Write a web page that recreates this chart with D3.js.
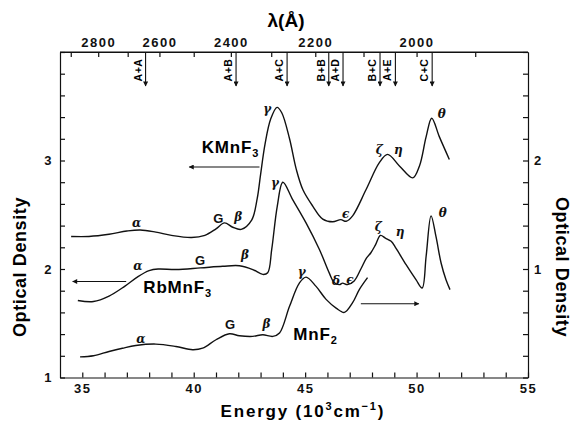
<!DOCTYPE html>
<html>
<head>
<meta charset="utf-8">
<script src="https://cdn.jsdelivr.net/npm/d3@7"></script>
<style>
  body { margin: 0; background: #fff; }
  svg { font-family: "Liberation Sans", Arial, sans-serif; }
  .axis path, .axis line { stroke: #111; stroke-width: 1.2; }
  .axis text { font-size: 13px; font-weight: bold; fill: #111; letter-spacing: 1.5px; }
  .curve { fill: none; stroke: #111; stroke-width: 1.4; }
  .greek { font-family: "DejaVu Serif", serif; font-style: italic; font-weight: bold; font-size: 12px; fill: #111; }
</style>
</head>
<body>
<script>
// energies in 10^3 cm^-1, optical density
var kEnergy = [34.5, 35.3, 36.2, 37.0, 37.6, 38.3, 39.0, 39.9, 40.5, 41.0, 41.38, 41.75, 42.13, 42.6, 42.85, 43.0, 43.2, 43.45, 43.74, 43.95, 44.3, 44.6, 44.9, 45.34, 45.79, 46.24, 46.6, 46.84, 47.13, 47.73, 48.33, 48.7, 49.23, 49.83, 50.13, 50.43, 50.68, 51.02, 51.47];
var kOD     = [2.30, 2.30, 2.32, 2.35, 2.36, 2.34, 2.31, 2.29, 2.31, 2.37, 2.425, 2.385, 2.365, 2.45, 2.65, 2.87, 3.15, 3.38, 3.49, 3.44, 3.2, 2.92, 2.73, 2.58, 2.46, 2.435, 2.455, 2.44, 2.49, 2.73, 2.98, 3.056, 2.95, 2.84, 2.95, 3.22, 3.39, 3.22, 3.01];

var rbEnergy = [34.8, 35.5, 36.2, 36.9, 37.5, 38.0, 38.4, 39.2, 40.3, 41.3, 42.05, 42.65, 43.1, 43.32, 43.5, 43.75, 44.0, 44.44, 45.04, 45.64, 46.09, 46.3, 46.54, 46.68, 46.9, 47.2, 47.5, 47.75, 47.95, 48.15, 48.38, 48.6, 48.86, 49.08, 49.53, 49.98, 50.25, 50.43, 50.65, 50.87, 51.1, 51.32, 51.5];
var rbOD     = [1.71, 1.70, 1.75, 1.84, 1.93, 1.985, 2.0, 1.995, 2.01, 2.025, 2.03, 1.995, 1.95, 1.965, 2.18, 2.58, 2.80, 2.64, 2.425, 2.18, 1.96, 1.875, 1.856, 1.87, 1.856, 1.89, 2.0, 2.1, 2.15, 2.22, 2.31, 2.285, 2.255, 2.19, 2.04, 1.90, 1.825, 2.12, 2.49, 2.30, 2.055, 1.90, 1.81];

// MnF2 is read on the right-hand axis
var mnEnergy = [34.9, 35.5, 36.2, 36.8, 37.4, 38.3, 39.2, 39.95, 40.4, 41.0, 41.6, 42.05, 42.65, 43.1, 43.55, 43.85, 44.3, 44.74, 45.04, 45.49, 45.94, 46.39, 46.76, 47.13, 47.43, 47.8];
var mnOD     = [0.19, 0.20, 0.24, 0.27, 0.295, 0.308, 0.286, 0.256, 0.27, 0.348, 0.403, 0.385, 0.379, 0.394, 0.379, 0.41, 0.656, 0.87, 0.925, 0.84, 0.72, 0.64, 0.60, 0.69, 0.81, 0.92];

// top axis, wavelength in Angstrom
var waveTicks  = [1900, 2000, 2100, 2200, 2300, 2400, 2500, 2600, 2700, 2800, 2900];
var waveLabels = [2000, 2200, 2400, 2600, 2800];

// pair transitions marked along the top
var transNames  = ["A+A", "A+B", "A+C", "B+B", "A+D", "B+C", "A+E", "C+C"];
var transEnergy = [37.84, 41.9, 44.19, 46.06, 46.7, 48.36, 49.05, 50.7];

var W = 574, H = 425,
    padL = 60, padR = 528, padT = 52, padB = 377.5;

var svg = d3.select("body").append("svg")
    .attr("width", W)
    .attr("height", H);

var x  = d3.scaleLinear().domain([34, 55]).range([padL, padR]),
    yL = d3.scaleLinear().domain([1, 4]).range([padB, padT]),
    yR = d3.scaleLinear().domain([0, 3]).range([padB, padT]);

var defs = svg.append("defs");
defs.append("marker")
    .attr("id", "head")
    .attr("viewBox", "0 0 10 10")
    .attr("refX", 9).attr("refY", 5)
    .attr("markerWidth", 7).attr("markerHeight", 5)
    .attr("markerUnits", "userSpaceOnUse")
    .attr("orient", "auto")
  .append("path")
    .attr("d", "M0,0L10,5L0,10Z")
    .attr("fill", "#111");

// axes, ticks pointing inward
svg.append("g").attr("class", "axis")
    .attr("transform", "translate(0," + padB + ")")
    .call(d3.axisBottom(x).tickValues(d3.range(35, 56)).tickSize(-5).tickSizeOuter(0).tickPadding(6)
        .tickFormat(function(d) { return d % 5 === 0 ? d : ""; }));

svg.append("g").attr("class", "axis")
    .attr("transform", "translate(" + padL + ",0)")
    .call(d3.axisLeft(yL).tickValues(d3.range(1, 4.01, 0.2)).tickSize(-5).tickSizeOuter(0).tickPadding(7)
        .tickFormat(function(d) { return Math.abs(d - Math.round(d)) < 1e-6 && d < 3.5 ? Math.round(d) : ""; }));

svg.append("g").attr("class", "axis")
    .attr("transform", "translate(" + padR + ",0)")
    .call(d3.axisRight(yR).tickValues(d3.range(0, 3.01, 0.2)).tickSize(-5).tickSizeOuter(0).tickPadding(6)
        .tickFormat(function(d) { var r = Math.round(d); return Math.abs(d - r) < 1e-6 && (r === 1 || r === 2) ? r : ""; }));

svg.append("g").attr("class", "axis")
    .attr("transform", "translate(0," + padT + ")")
    .call(d3.axisTop(x).tickValues(waveTicks.map(function(w) { return 1e5 / w; }))
        .tickSize(-5).tickSizeOuter(0).tickPadding(5)
        .tickFormat(function(e) { var w = Math.round(1e5 / e); return waveLabels.indexOf(w) >= 0 ? w : ""; }));

// full top edge of the frame
svg.append("line")
    .attr("x1", x(34)).attr("x2", x(55))
    .attr("y1", padT).attr("y2", padT)
    .attr("stroke", "#111").attr("stroke-width", 1.2);

// axis titles
svg.append("text")
    .attr("x", 286).attr("y", 27)
    .attr("text-anchor", "middle")
    .style("font-size", "19px").style("font-weight", "bold")
    .text("λ(Å)");

var eLabel = svg.append("text")
    .attr("x", x(44.9)).attr("y", 417)
    .attr("text-anchor", "middle")
    .style("font-size", "17px").style("font-weight", "bold").style("letter-spacing", "1.8px");
eLabel.append("tspan").text("Energy  (10");
eLabel.append("tspan").attr("dy", -7).style("font-size", "11px").text("3");
eLabel.append("tspan").attr("dy", 7).text("cm");
eLabel.append("tspan").attr("dy", -7).style("font-size", "11px").text("−1");
eLabel.append("tspan").attr("dy", 7).text(")");

svg.append("text")
    .attr("transform", "translate(26,267) rotate(-90)")
    .attr("text-anchor", "middle")
    .style("font-size", "18px").style("font-weight", "bold").style("letter-spacing", "0.6px")
    .text("Optical Density");

svg.append("text")
    .attr("transform", "translate(556,267) rotate(90)")
    .attr("text-anchor", "middle")
    .style("font-size", "18px").style("font-weight", "bold").style("letter-spacing", "0.6px")
    .text("Optical Density");

// transition arrows under the top axis
var trans = svg.selectAll(".trans")
    .data(transNames.map(function(n, i) { return {name: n, e: transEnergy[i]}; }))
    .enter().append("g").attr("class", "trans");

trans.append("line")
    .attr("x1", function(d) { return x(d.e); })
    .attr("x2", function(d) { return x(d.e); })
    .attr("y1", padT).attr("y2", padT + 34)
    .attr("stroke", "#111").attr("stroke-width", 1.1)
    .attr("marker-end", "url(#head)");

trans.append("text")
    .attr("transform", function(d) { return "translate(" + (x(d.e) - 4) + "," + (padT + 18) + ") rotate(-90)"; })
    .attr("text-anchor", "middle")
    .style("font-size", "10.5px").style("font-weight", "bold").style("letter-spacing", "0.5px")
    .text(function(d) { return d.name; });

// spectra
var lineL = d3.line().curve(d3.curveCatmullRom.alpha(0.5))
    .x(function(d) { return x(d[0]); })
    .y(function(d) { return yL(d[1]); });
var lineR = d3.line().curve(d3.curveCatmullRom.alpha(0.5))
    .x(function(d) { return x(d[0]); })
    .y(function(d) { return yR(d[1]); });

svg.append("path").attr("class", "curve").attr("d", lineL(d3.zip(kEnergy, kOD)));
svg.append("path").attr("class", "curve").attr("d", lineL(d3.zip(rbEnergy, rbOD)));
svg.append("path").attr("class", "curve").attr("d", lineR(d3.zip(mnEnergy, mnOD)));

// arrows telling which axis each curve belongs to
function arrow(e0, e1, v, scale) {
  svg.append("line")
      .attr("x1", x(e0)).attr("x2", x(e1))
      .attr("y1", scale(v)).attr("y2", scale(v))
      .attr("stroke", "#111").attr("stroke-width", 1.1)
      .attr("marker-end", "url(#head)");
}
arrow(42.95, 39.8, 2.94, yL);
arrow(36.97, 34.57, 1.885, yL);
arrow(47.5, 50.1, 0.68, yR);

function compound(name, sub, e, v, scale) {
  var t = svg.append("text")
      .attr("x", x(e)).attr("y", scale(v))
      .style("font-size", "17px").style("font-weight", "bold").style("letter-spacing", "0.8px");
  t.append("tspan").text(name);
  t.append("tspan").attr("dy", 4).style("font-size", "11px").text(sub);
}
compound("KMnF", "3", 40.36, 3.066, yL);
compound("RbMnF", "3", 37.74, 1.776, yL);
compound("MnF", "2", 44.47, 0.346, yR);

// peak labels
var greekK = [["α", 37.44, 2.427], ["G", 41.10, 2.467], ["β", 42.0, 2.482], ["γ", 43.30, 3.472], ["ϵ", 46.82, 2.507], ["ζ", 48.33, 3.097], ["η", 49.18, 3.097], ["θ", 51.13, 3.429]];
var greekRb = [["α", 37.49, 2.03], ["G", 40.28, 2.083], ["β", 42.30, 2.129], ["γ", 43.65, 2.79], ["δ", 46.38, 1.892], ["ϵ", 47.01, 1.905], ["ζ", 48.28, 2.39], ["η", 49.26, 2.344], ["θ", 51.17, 2.519]];
var greekMn = [["α", 37.63, 0.361], ["G", 41.63, 0.493], ["β", 43.27, 0.493], ["γ", 44.85, 0.975]];

function peakLabels(list, scale) {
  svg.append("g").selectAll("text")
      .data(list).enter().append("text")
      .attr("class", "greek")
      .attr("x", function(d) { return x(d[1]); })
      .attr("y", function(d) { return scale(d[2]); })
      .attr("dy", "0.35em")
      .attr("text-anchor", "middle")
      .style("font-family", function(d) { return d[0] === "G" ? "Liberation Sans, Arial, sans-serif" : null; })
      .style("font-style", function(d) { return d[0] === "G" ? "normal" : null; })
      .style("font-size", function(d) { return d[0] === "G" ? "13px" : null; })
      .text(function(d) { return d[0]; });
}
peakLabels(greekK, yL);
peakLabels(greekRb, yL);
peakLabels(greekMn, yR);
</script>
</body>
</html>
